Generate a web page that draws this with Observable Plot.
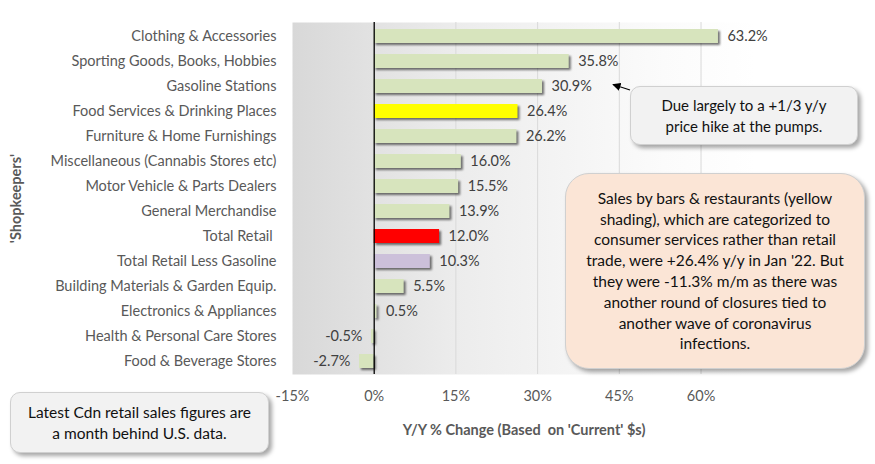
<!DOCTYPE html>
<html>
<head>
<meta charset="utf-8">
<script src="https://cdn.jsdelivr.net/npm/d3@7"></script>
<script src="https://cdn.jsdelivr.net/npm/@observablehq/plot@0.6"></script>
<style>
  html, body { margin: 0; padding: 0; background: #fff; }
  #wrap { position: relative; width: 875px; height: 464px; font-family: Lato, "Open Sans", sans-serif; }
  .note { position: absolute; box-sizing: border-box; display: flex; align-items: center; justify-content: center;
          text-align: center; font-size: 15.5px; line-height: 20.8px; color: #111; font-family: Lato, sans-serif; }
  .bars rect { filter: drop-shadow(2px 2px 1.2px rgba(0,0,0,0.55)); }
</style>
</head>
<body>
<div id="wrap"></div>
<script>
const categories = [
  "Clothing & Accessories",
  "Sporting Goods, Books, Hobbies",
  "Gasoline Stations",
  "Food Services & Drinking Places",
  "Furniture & Home Furnishings",
  "Miscellaneous (Cannabis Stores etc)",
  "Motor Vehicle & Parts Dealers",
  "General Merchandise",
  "Total Retail ",
  "Total Retail Less Gasoline",
  "Building Materials & Garden Equip.",
  "Electronics & Appliances",
  "Health & Personal Care Stores",
  "Food & Beverage Stores"
];
const values = [63.2, 35.8, 30.9, 26.4, 26.2, 16.0, 15.5, 13.9, 12.0, 10.3, 5.5, 0.5, -0.5, -2.7];
const barColors = ["#d7e4bd","#d7e4bd","#d7e4bd","#ffff00","#d7e4bd","#d7e4bd","#d7e4bd","#d7e4bd",
                   "#ff0000","#ccc0da","#d7e4bd","#d7e4bd","#d7e4bd","#d7e4bd"];
const xTicks = [-15, 0, 15, 30, 45, 60];
const gridTicks = [15, 30, 45, 60];

const data = categories.map((c, i) => ({cat: c, value: values[i], color: barColors[i]}));
const fmt = d => d.value.toFixed(1) + "%";

const chart = Plot.plot({
  width: 875,
  height: 464,
  marginLeft: 292,
  marginRight: 120,
  marginTop: 22,
  marginBottom: 90,
  style: {fontFamily: "Lato, 'Open Sans', sans-serif", fontSize: "14.5px", color: "#595959", background: "transparent"},
  x: {domain: [-15, 70], ticks: xTicks, tickFormat: d => d + "%"},
  y: {domain: categories, paddingInner: 0.44, paddingOuter: 0.22},
  marks: [
    Plot.frame({fill: "url(#bgGrad)", stroke: "none"}),
    Plot.ruleX(gridTicks, {stroke: "#d9d9d9", strokeWidth: 1}),
    Plot.barX(data, {x: "value", y: "cat", fill: "color", className: "bars"}),
    Plot.ruleX([0], {stroke: "#000", strokeWidth: 1.3}),
    Plot.text(data.filter(d => d.value >= 0), {
      x: "value", y: "cat", text: fmt, textAnchor: "start", dx: 9, fill: "#404040", fontSize: 14.5
    }),
    Plot.text(data.filter(d => d.value < 0), {
      x: "value", y: "cat", text: fmt, textAnchor: "end", dx: -9, fill: "#404040", fontSize: 14.5
    }),
    Plot.axisX({ticks: xTicks, tickFormat: d => d + "%", tickSize: 0, tickPadding: 16, fill: "#595959", fontSize: 14.5,
      label: "Y/Y % Change (Based  on 'Current' $s)", labelAnchor: "center", labelOffset: 60, labelArrow: "none"}),
    Plot.axisY({tickSize: 0, tickPadding: 16, fill: "#595959", fontSize: 14.5,
      label: "'Shopkeepers'", labelAnchor: "center", labelOffset: 282, labelArrow: "none"})
  ]
});

const svg = d3.select(chart);
const defs = svg.insert("defs", ":first-child");
const g = defs.append("linearGradient").attr("id", "bgGrad").attr("x1", "0").attr("x2", "1").attr("y1", "0").attr("y2", "0");
g.append("stop").attr("offset", "0").attr("stop-color", "#d8d8d8");
g.append("stop").attr("offset", "0.35").attr("stop-color", "#ececec");
g.append("stop").attr("offset", "0.8").attr("stop-color", "#fbfbfb");
g.append("stop").attr("offset", "1").attr("stop-color", "#ffffff");

svg.selectAll("g[aria-label='x-axis label'] text, g[aria-label='y-axis label'] text")
  .attr("font-weight", "bold");

const wrap = document.getElementById("wrap");
wrap.appendChild(chart);
chart.style.position = "absolute";
chart.style.left = "0";
chart.style.top = "0";

function note(html, left, top, w, h, bg, radius, fs) {
  const d = document.createElement("div");
  d.className = "note";
  d.innerHTML = html;
  Object.assign(d.style, {left: left + "px", top: top + "px", width: w + "px", height: h + "px",
    background: bg, borderRadius: radius + "px", border: "1px solid #d0d0d0",
    boxShadow: "3px 3px 4px rgba(0,0,0,0.35)"});
  if (fs) d.style.fontSize = fs + "px";
  wrap.appendChild(d);
}
note("Due largely to a +1/3 y/y<br>price hike at the pumps.", 630, 86, 228, 59, "#f2f2f2", 10, 15);
note("Sales by bars &amp; restaurants (yellow<br>shading), which are categorized to<br>consumer services rather than retail<br>trade, were +26.4% y/y in Jan '22. But<br>they were -11.3% m/m as there was<br>another round of closures tied to<br>another wave of coronavirus<br>infections.",
     565, 173, 300, 196, "#fbe5d6", 24);
note("Latest Cdn retail sales figures are<br>a month behind U.S. data.", 10, 392, 259, 61, "#f2f2f2", 10);

const ns = "http://www.w3.org/2000/svg";
const a = document.createElementNS(ns, "svg");
a.setAttribute("width", 875); a.setAttribute("height", 464);
Object.assign(a.style, {position: "absolute", left: "0", top: "0", pointerEvents: "none"});
a.innerHTML = '<defs><marker id="ah" viewBox="0 0 10 10" refX="9" refY="5" markerWidth="7" markerHeight="7" orient="auto-start-reverse"><path d="M0,0 L10,5 L0,10 z" fill="#000"/></marker></defs>' +
  '<line x1="630" y1="90" x2="613" y2="84.5" stroke="#000" stroke-width="1.2" marker-end="url(#ah)"/>';
wrap.appendChild(a);
</script>
</body>
</html>
